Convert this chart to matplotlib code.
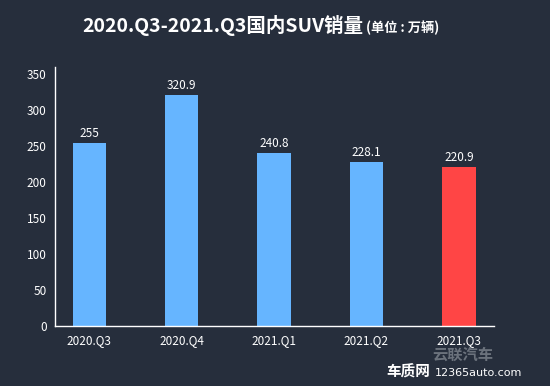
import matplotlib
matplotlib.use("Agg")
import matplotlib.pyplot as plt

plt.rcParams['font.family'] = ['Noto Sans CJK SC', 'DejaVu Sans']

quarters = ["2020.Q3", "2020.Q4", "2021.Q1", "2021.Q2", "2021.Q3"]
sales = [255, 320.9, 240.8, 228.1, 220.9]
value_labels = ["255", "320.9", "240.8", "228.1", "220.9"]
y_ticks = [0, 50, 100, 150, 200, 250, 300, 350]

bg = "#262e3c"
blue = "#66b5ff"
red = "#ff4545"
colors = [blue, blue, blue, blue, red]

fig = plt.figure(figsize=(5.5, 3.86), dpi=100, facecolor=bg)
ax = fig.add_axes([55 / 550, 1 - 326 / 386, 439 / 550, 259 / 386])
ax.set_facecolor(bg)

x = list(range(len(quarters)))
ax.bar(x, sales, width=0.36, color=colors)
for xi, v, lab in zip(x, sales, value_labels):
    ax.text(xi, v + 4, lab, ha="center", va="bottom", color="white", fontsize=8.5)

ax.set_xlim(-0.37, 4.38)
ax.set_ylim(0, 360)
ax.set_yticks(y_ticks)
ax.set_xticks(x)
ax.set_xticklabels(quarters)
ax.tick_params(colors="white", labelsize=8.5, length=0, pad=6)
for s in ["top", "right"]:
    ax.spines[s].set_visible(False)
for s in ["left", "bottom"]:
    ax.spines[s].set_color("white")
    ax.spines[s].set_linewidth(1)

# title
fig.text(0.405, 1 - 26 / 386, "2020.Q3-2021.Q3国内SUV销量", ha="center", va="center",
         color="white", fontsize=14, fontweight="bold")
fig.text(366 / 550, 1 - 28 / 386, "(单位 : 万辆)", ha="left", va="center",
         color="white", fontsize=9.5, fontweight="bold")

# watermark
fig.text(463 / 550, 1 - 355 / 386, "云联汽车", ha="center", va="center",
         color="#9aa0a8", alpha=0.6, fontsize=11, fontweight="bold")
fig.text(430 / 550, 1 - 372 / 386, "车质网", ha="right", va="center",
         color="white", fontsize=10.5, fontweight="bold")
fig.text(435 / 550, 1 - 373 / 386, "12365auto.com", ha="left", va="center",
         color="white", fontsize=8, family=["DejaVu Sans"])

fig.savefig("out.png", dpi=100, facecolor=bg)
